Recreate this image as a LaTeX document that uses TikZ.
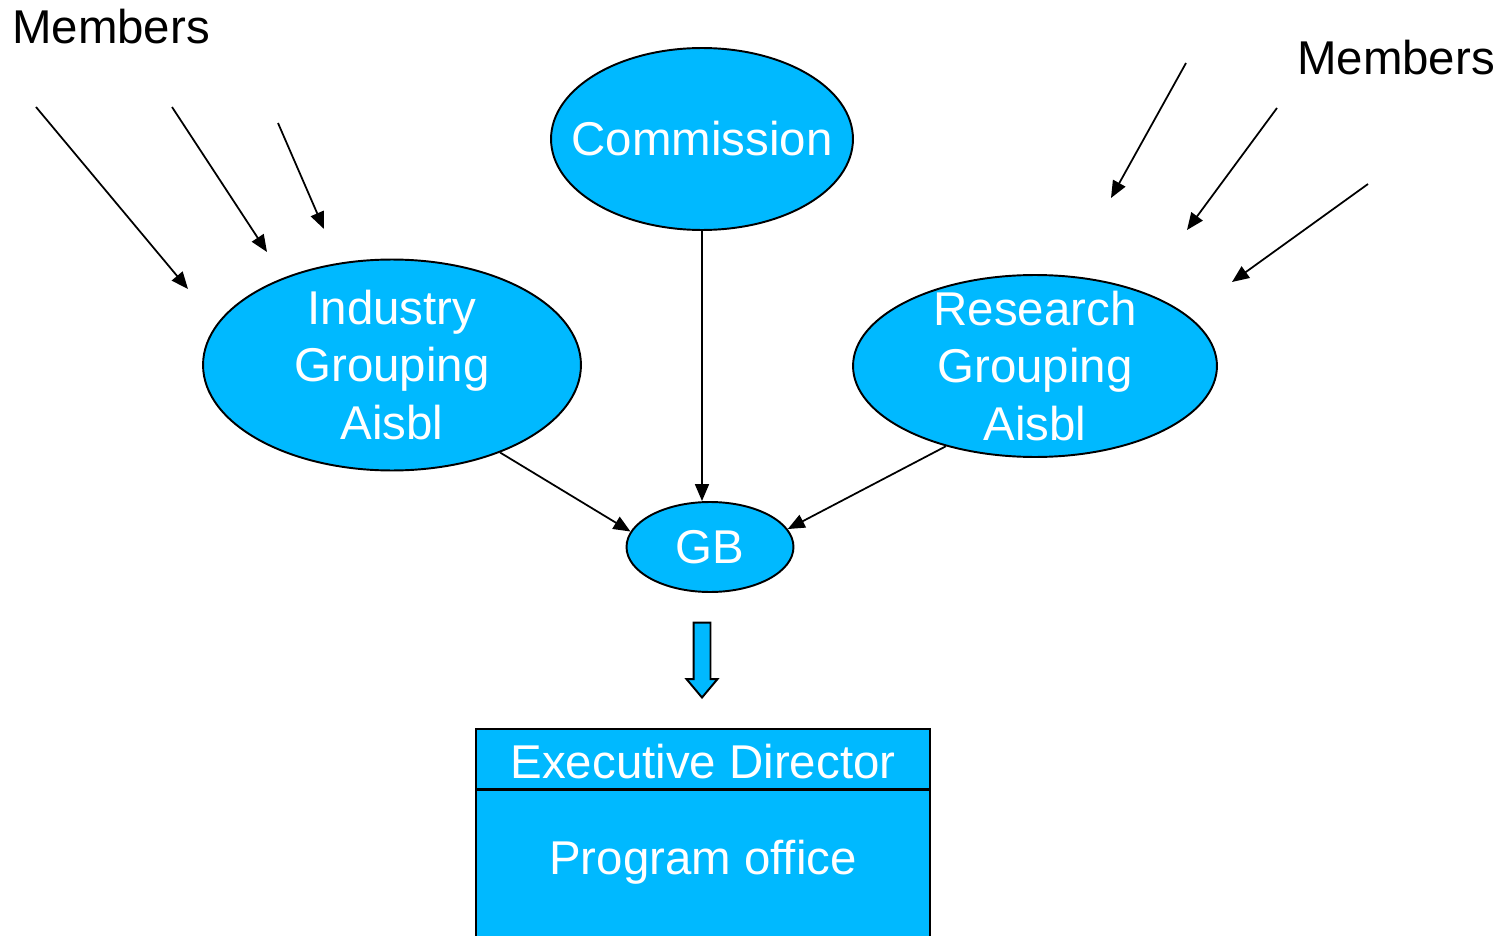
\documentclass[tikz,border=0pt]{standalone}
\usepackage{fontspec}
\setmainfont{Liberation Sans}
\usetikzlibrary{shapes.geometric,shapes.arrows,arrows.meta}
\definecolor{groupblue}{RGB}{0,185,255}

\begin{document}
\begin{tikzpicture}[x=0.02cm, y=-0.02cm, font=\fontsize{27}{32.5}\selectfont,
    blob/.style={draw, ellipse, fill=groupblue, text=white, line width=1.1pt, align=center, inner sep=0pt},
    unit/.style={draw, rectangle, fill=groupblue, text=white, line width=1.1pt, minimum width=9.08cm},
    link/.style={-{Triangle[length=0.34cm,width=0.28cm]}, line width=1pt}]
    \clip (0,0) rectangle (1505,936);
    \node (lmem) at (111,27) {Members};
    \node (rmem) at (1396,58) {Members};
    \node[blob, minimum width=6.04cm, minimum height=3.64cm, inner xsep=-0.5cm] (com) at (702,139) {Commission};
    \node[blob, minimum width=7.56cm, minimum height=4.22cm, inner ysep=-0.35cm] (ind) at (392,365) {Industry\\Grouping\\Aisbl};
    \node[blob, minimum width=7.28cm, minimum height=3.64cm, inner ysep=-0.35cm] (res) at (1035,366) {Research\\Grouping\\Aisbl};
    \node[blob, minimum width=3.34cm, minimum height=1.8cm] (gb) at (710,547) {GB};
    \node[draw, fill=groupblue, line width=1.1pt, single arrow, rotate=-90, inner sep=0.15cm,
        minimum height=1.5cm, single arrow head extend=0.14cm, single arrow tip angle=80] (flow) at (702,655) {};
    \node[unit, minimum height=1.2cm, text height=0.78cm] (ed) at (703,759) {Executive Director};
    \node[unit, anchor=north, minimum height=4cm] (po) at (703,789) {};
    \node[text=white] (potext) at (703,862) {Program office};

    \draw[link] (com.south) -- (com.south |- gb.north);
    \draw[link] (ind.-39) -- (gb.169);
    \draw[link] (res.-138) -- (gb.13);

    \foreach \i/\a/\b in {1/{36,107}/{188,289}, 2/{172,107}/{267,252}, 3/{278,123}/{324,229},
                          4/{1186,63}/{1111,198}, 5/{1277,108}/{1187,230}, 6/{1368,184}/{1232,282}} {
        \coordinate (from\i) at (\a);
        \coordinate (to\i) at (\b);
        \draw[link] (from\i) -- (to\i);
    }
\end{tikzpicture}
\end{document}
